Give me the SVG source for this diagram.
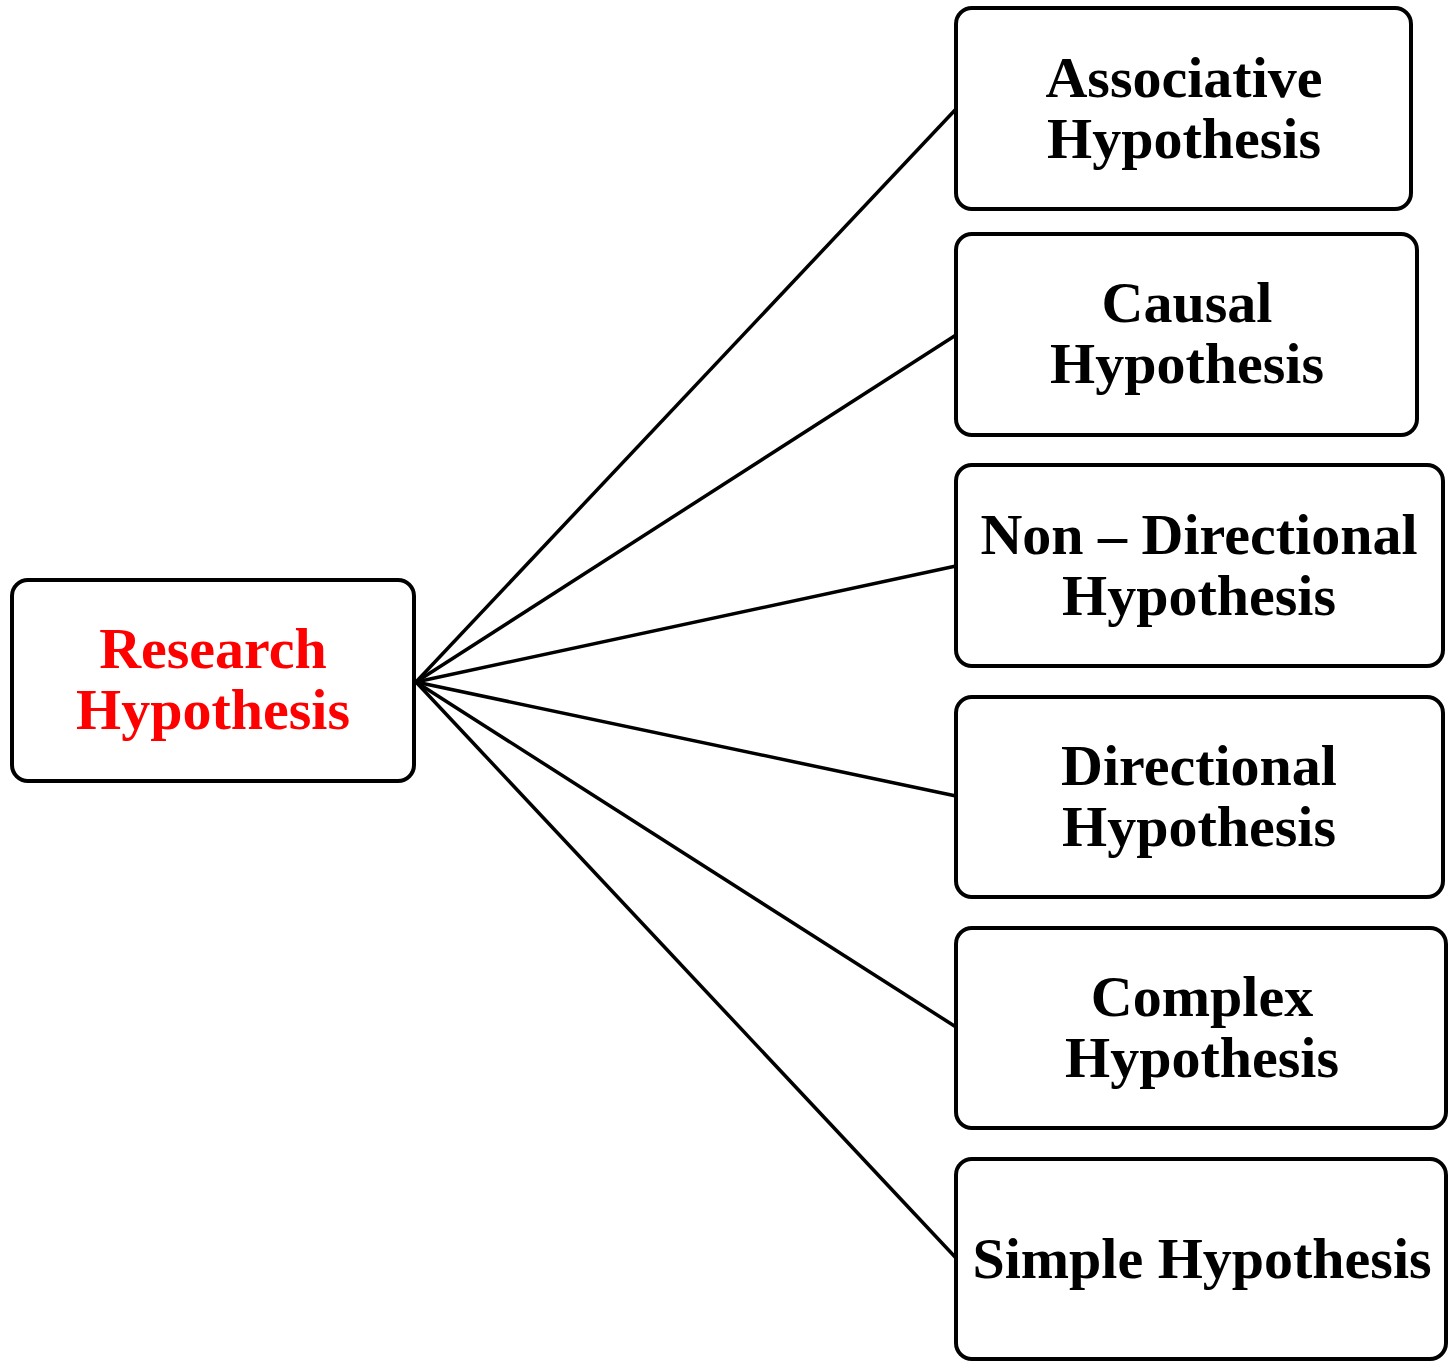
<svg xmlns="http://www.w3.org/2000/svg" width="1449" height="1361" viewBox="0 0 1449 1361">
<style>
.box{fill:#fff;stroke:#000;stroke-width:4}
.t{font-family:"Liberation Serif","Times New Roman",serif;font-weight:bold;font-size:58px;text-anchor:middle;fill:#000}
.red{fill:#ff0000}
.conn line{stroke:#000;stroke-width:3.5}
</style>
<rect width="1449" height="1361" fill="#fff"/>
<g id="connectors" class="conn">
<line x1="416" y1="682" x2="956" y2="109"/>
<line x1="416" y1="682" x2="956" y2="335"/>
<line x1="416" y1="682" x2="956" y2="566"/>
<line x1="416" y1="682" x2="956" y2="796"/>
<line x1="416" y1="682" x2="956" y2="1027"/>
<line x1="416" y1="682" x2="956" y2="1258"/>
</g>
<g id="research">
<rect class="box" x="12" y="580" width="402" height="201" rx="16"/>
<text class="t red" x="213" y="668">Research</text>
<text class="t red" x="213" y="729">Hypothesis</text>
</g>
<g id="associative">
<rect class="box" x="956" y="8" width="455" height="201" rx="16"/>
<text class="t" x="1184" y="97">Associative</text>
<text class="t" x="1184" y="158">Hypothesis</text>
</g>
<g id="causal">
<rect class="box" x="956" y="234" width="461" height="201" rx="16"/>
<text class="t" x="1187" y="322">Causal</text>
<text class="t" x="1187" y="383">Hypothesis</text>
</g>
<g id="nondirectional">
<rect class="box" x="956" y="465" width="487" height="201" rx="16"/>
<text class="t" x="1199" y="554">Non – Directional</text>
<text class="t" x="1199" y="615">Hypothesis</text>
</g>
<g id="directional">
<rect class="box" x="956" y="697" width="487" height="200" rx="16"/>
<text class="t" x="1199" y="785">Directional</text>
<text class="t" x="1199" y="846">Hypothesis</text>
</g>
<g id="complex">
<rect class="box" x="956" y="928" width="490" height="200" rx="16"/>
<text class="t" x="1202" y="1016">Complex</text>
<text class="t" x="1202" y="1077">Hypothesis</text>
</g>
<g id="simple">
<rect class="box" x="956" y="1159" width="490" height="200" rx="16"/>
<text class="t" x="1202" y="1278">Simple Hypothesis</text>
</g>
</svg>
